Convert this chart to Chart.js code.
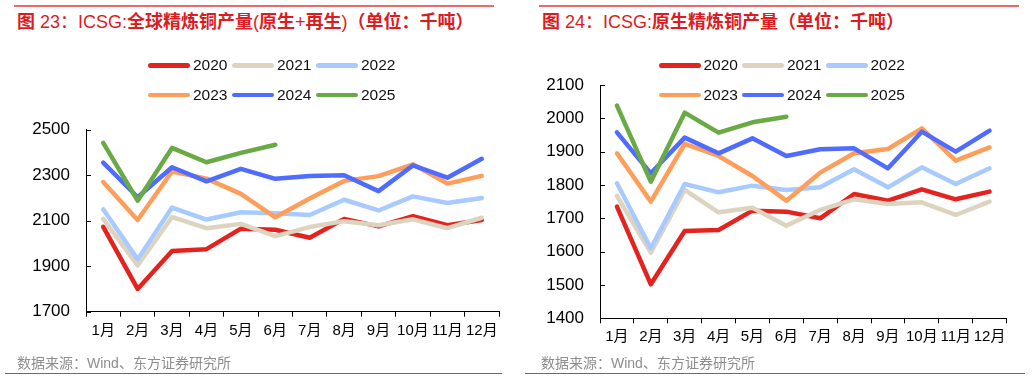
<!DOCTYPE html>
<html>
<head>
<meta charset="utf-8">
<script src="https://cdn.jsdelivr.net/npm/chart.js@4.4.1/dist/chart.umd.min.js"></script>
<style>
  html, body { margin: 0; padding: 0; background: #fff; }
  body { width: 1032px; height: 380px; position: relative; overflow: hidden;
         font-family: "Liberation Sans", "Noto Sans CJK SC", sans-serif; }
  .panel { position: absolute; top: 0; width: 516px; height: 380px; }
  .panel canvas { position: absolute; left: 0; top: 0; }
  .topline { position: absolute; top: 5px; height: 2px; background: #e96a6a; }
  .botline { position: absolute; top: 373px; height: 1px; background: #e0393b; }
  .title { position: absolute; top: 9px; font-size: 18px; color: #dc1c22; white-space: nowrap;
           line-height: 22px; font-family: "Liberation Sans", "Noto Sans CJK SC", sans-serif; }
  .title b { font-family: "Noto Sans CJK SC", sans-serif; font-weight: bold; }
  .source { position: absolute; top: 354px; font-size: 14px; color: #8e8e8e; white-space: nowrap;
            line-height: 18px; font-family: "Liberation Sans", "Noto Sans CJK SC", sans-serif; }
  .leg { position: absolute; height: 20px; z-index: 5; white-space: nowrap; }
  .leg span.sw { position: absolute; left: 0; top: 8px; width: 42px; height: 4.5px; border-radius: 3px; }
  .leg span.tx { position: absolute; left: 45px; top: 0; font-size: 15.5px; line-height: 20px; color: #111; }
</style>
</head>
<body>
<div class="panel" id="p1" style="left:0">
  <div class="topline" style="left:14px;width:480px"></div>
  <div class="title" style="left:17px"><b>图</b> 23：ICSG:<b>全球精炼铜产量</b>(<b>原生</b>+<b>再生</b>)<b>（单位：千吨）</b></div>
  <canvas id="c1" width="516" height="380"></canvas>
  <div class="source" style="left:17px">数据来源：Wind、东方证券研究所</div>
  <div class="botline" style="left:5px;width:497px"></div>
</div>
<div class="panel" id="p2" style="left:516px">
  <div class="topline" style="left:23px;width:480px"></div>
  <div class="title" style="left:26px"><b>图</b> 24：ICSG:<b>原生精炼铜产量（单位：千吨）</b></div>
  <canvas id="c2" width="516" height="380"></canvas>
  <div class="source" style="left:25px">数据来源：Wind、东方证券研究所</div>
  <div class="botline" style="left:9px;width:500px"></div>
</div>
<script>
// ---- data ----
const months = ['1月','2月','3月','4月','5月','6月','7月','8月','9月','10月','11月','12月'];
const years = ['2020','2021','2022','2023','2024','2025'];
const colors = ['#e4231e','#ddd4bf','#a8caff','#ff9e5b','#4f6cff','#6aaa45'];

// 全球精炼铜产量(原生+再生)
const total2020 = [2073, 1800, 1967, 1975, 2065, 2060, 2025, 2108, 2075, 2120, 2080, 2103];
const total2021 = [2108, 1903, 2116, 2067, 2086, 2032, 2072, 2098, 2080, 2106, 2067, 2113];
const total2022 = [2150, 1930, 2158, 2105, 2137, 2133, 2125, 2192, 2145, 2207, 2178, 2200];
const total2023 = [2270, 2103, 2316, 2285, 2218, 2115, 2198, 2275, 2296, 2348, 2263, 2297];
const total2024 = [2355, 2203, 2335, 2273, 2328, 2284, 2296, 2300, 2230, 2343, 2289, 2372];
const total2025 = [2442, 2188, 2420, 2357, 2398, 2434];

// 原生精炼铜产量
const prim2020 = [1735, 1502, 1662, 1665, 1723, 1720, 1700, 1773, 1753, 1787, 1757, 1780];
const prim2021 = [1767, 1597, 1785, 1718, 1732, 1678, 1725, 1757, 1743, 1748, 1710, 1750];
const prim2022 = [1805, 1610, 1803, 1778, 1798, 1785, 1793, 1847, 1793, 1853, 1803, 1850];
const prim2023 = [1895, 1750, 1923, 1887, 1827, 1753, 1837, 1895, 1908, 1970, 1873, 1913];
const prim2024 = [1958, 1835, 1942, 1895, 1940, 1887, 1907, 1910, 1850, 1960, 1900, 1963];
const prim2025 = [2038, 1810, 2017, 1957, 1988, 2005];

const yTicksTotal = [1700, 1900, 2100, 2300, 2500];
const yTicksPrim = [1400, 1500, 1600, 1700, 1800, 1900, 2000, 2100];

// ---- legends (HTML) ----
function makeLegend(panelId, starts, rowsY) {
  const panel = document.getElementById(panelId);
  years.forEach((y, i) => {
    const d = document.createElement('div');
    d.className = 'leg';
    d.style.left = starts[i % 3] + 'px';
    d.style.top = (rowsY[Math.floor(i / 3)] - 10) + 'px';
    d.innerHTML = '<span class="sw" style="background:' + colors[i] + '"></span><span class="tx">' + y + '</span>';
    panel.appendChild(d);
  });
}
makeLegend('p1', [148, 232, 316], [65, 94.5]);
makeLegend('p2', [142.5, 226, 309.5], [65, 94.5]);

// ---- charts ----
const innerTicks = {
  id: 'innerTicks',
  afterDraw(chart) {
    const ys = chart.scales.y, ctx = chart.ctx, left = chart.chartArea.left;
    ctx.save();
    ctx.strokeStyle = '#000';
    ctx.lineWidth = 1;
    ys.ticks.forEach(t => {
      const py = Math.round(ys.getPixelForValue(t.value)) + 0.5;
      ctx.beginPath();
      ctx.moveTo(left, py);
      ctx.lineTo(left + 5, py);
      ctx.stroke();
    });
    ctx.restore();
  }
};

function makeChart(id, series, tickVals, pad, yWidth) {
  const datasets = series.map((data, i) => ({
    label: years[i],
    data: data,
    borderColor: colors[i],
    backgroundColor: colors[i],
    borderWidth: 4.5,
    pointRadius: 0,
    pointHoverRadius: 0,
    tension: 0,
    fill: false,
    borderJoinStyle: 'round',
    borderCapStyle: 'round',
    order: 6 - i
  }));
  return new Chart(document.getElementById(id), {
    type: 'line',
    data: { labels: months, datasets },
    plugins: [innerTicks],
    options: {
      responsive: false,
      animation: false,
      devicePixelRatio: 1,
      layout: { padding: pad },
      plugins: { legend: { display: false }, tooltip: { enabled: false }, title: { display: false } },
      scales: {
        x: {
          type: 'category',
          offset: true,
          grid: { display: true, drawOnChartArea: false, drawTicks: true, tickLength: 5, color: '#000', offset: true, lineWidth: 1 },
          border: { display: true, color: '#000', width: 1 },
          ticks: { color: '#000', font: { size: 15, family: '"Liberation Sans", "Noto Sans CJK SC", sans-serif' }, padding: 5, maxRotation: 0, autoSkip: false },
          afterFit(s) { s.height = 40; }
        },
        y: {
          min: tickVals[0],
          max: tickVals[tickVals.length - 1],
          afterBuildTicks(s) { s.ticks = tickVals.map(v => ({ value: v })); },
          grid: { display: true, drawOnChartArea: false, drawTicks: false },
          border: { display: true, color: '#000', width: 1 },
          ticks: { color: '#000', font: { size: 17, family: '"Liberation Sans", sans-serif' }, padding: 16,
                   callback: v => String(v) },
          afterFit(s) { s.width = yWidth; }
        }
      }
    }
  });
}

makeChart('c1', [total2020, total2021, total2022, total2023, total2024, total2025], yTicksTotal,
  { left: 0, top: 129.7, right: 17, bottom: 28.3 }, 86);
makeChart('c2', [prim2020, prim2021, prim2022, prim2023, prim2024, prim2025], yTicksPrim,
  { left: 0, top: 85, right: 25.5, bottom: 21.7 }, 84);
</script>
</body>
</html>
